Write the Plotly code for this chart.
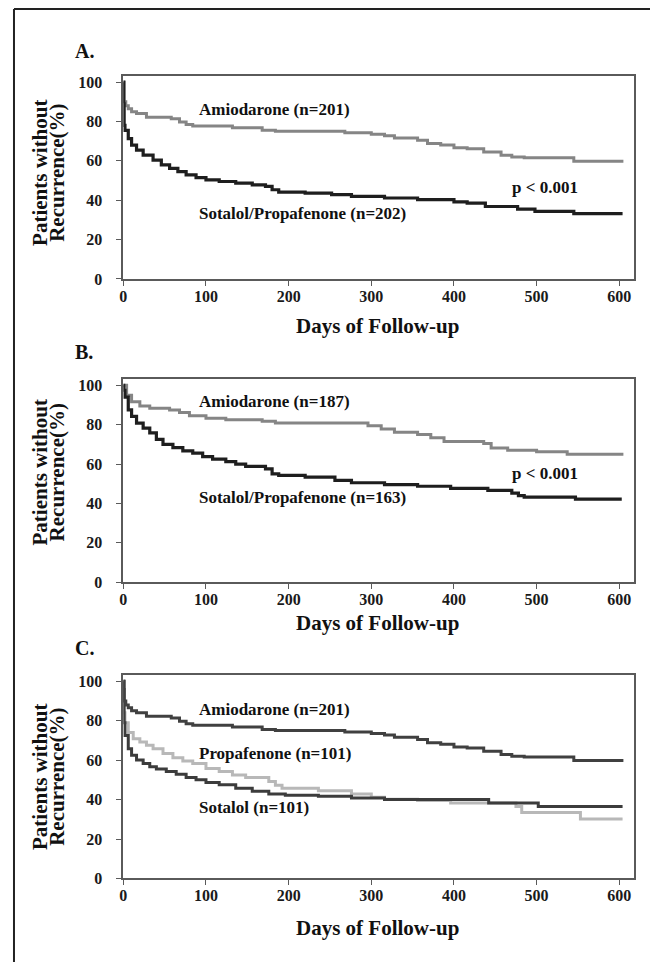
import plotly.graph_objects as go

W, H = 658, 971
OFF = 8  # page body margin of the html page
FW, FH = W - OFF, H - OFF

# ---------------- data (Kaplan-Meier step points: day, % without recurrence) ----------------
a_amio_days = [0, 1, 3, 6, 10, 16, 28, 58, 68, 76, 84, 132, 168, 184, 268, 300, 316, 328, 356, 368, 384, 400, 416, 436, 457, 470, 485, 545, 605]
a_amio_vals = [100, 90, 88, 86.5, 85, 84, 82.2, 81.4, 79.7, 78.5, 77.7, 76.8, 75.5, 75, 74.3, 73.5, 72.7, 71.6, 70.5, 68.8, 68, 66.6, 66.2, 64.5, 62.8, 62, 61.6, 59.8, 59.8]

a_sp_days = [0, 0.5, 1, 2, 6, 10, 16, 24, 36, 46, 56, 66, 76, 88, 100, 116, 136, 156, 172, 180, 188, 220, 252, 276, 316, 356, 400, 416, 438, 477, 498, 545, 604]
a_sp_vals = [100, 89, 78, 75.5, 71.3, 68, 65.4, 62.9, 60.4, 57.9, 56.2, 54.5, 52.9, 51.5, 50.3, 49.5, 48.7, 47.8, 47, 45.3, 44.1, 43.6, 42.8, 41.9, 41.1, 40.3, 39.1, 38.5, 36.8, 35.5, 34.3, 33.2, 33.2]

b_amio_days = [0, 4, 10, 20, 32, 56, 68, 80, 100, 124, 168, 184, 296, 312, 328, 356, 372, 388, 436, 445, 465, 500, 537, 605]
b_amio_vals = [100, 95, 91.7, 89.5, 88.3, 87.5, 86.2, 84.5, 83.3, 82.5, 81.7, 80.8, 79.5, 77.8, 76.2, 75, 73.3, 71.5, 70.4, 68.2, 67, 66.2, 65, 65]

b_sp_days = [0, 0.5, 2, 6, 10, 16, 24, 32, 40, 48, 60, 72, 84, 96, 108, 124, 136, 148, 172, 180, 188, 220, 256, 276, 316, 356, 396, 441, 470, 478, 485, 547, 603]
b_sp_vals = [100, 97.5, 94, 87.5, 84.2, 80.8, 78.3, 75.8, 72.5, 70, 68.3, 66.7, 65.5, 63.8, 62.5, 61.2, 60, 58.8, 57.5, 55, 54.2, 53.3, 51.7, 50.5, 49.5, 48.7, 47.6, 46.6, 45.2, 43.9, 43.2, 42.2, 42.2]

c_prop_days = [0, 0.5, 2, 6, 12, 20, 28, 36, 48, 60, 72, 84, 100, 116, 132, 148, 176, 184, 192, 236, 276, 300, 316, 356, 396, 475, 482, 553, 604]
c_prop_vals = [100, 84, 79, 74, 70.8, 69.2, 67.5, 65.8, 63.3, 61.2, 59.5, 58.3, 55.8, 54.2, 52.5, 51.2, 49.2, 47.2, 45.8, 44.5, 42.8, 41.2, 40.2, 39.5, 38.2, 36.5, 33.5, 30.2, 30.2]

c_sot_days = [0, 0.5, 1, 2, 6, 10, 16, 24, 32, 40, 52, 64, 76, 88, 100, 116, 136, 156, 176, 196, 236, 276, 316, 442, 502, 604]
c_sot_vals = [100, 95.8, 79, 72.5, 65.8, 62.5, 60, 58.3, 56.7, 55.5, 54.2, 52.8, 51.2, 50, 48.7, 47.5, 45.8, 44.2, 42.8, 42.2, 41.7, 40.8, 40, 38.2, 36.5, 36.5]

x_ticks = [0, 100, 200, 300, 400, 500, 600]
y_ticks = [0, 20, 40, 60, 80, 100]

panel_labels = ["A.", "B.", "C."]
x_title = "Days of Follow-up"
y_title_lines = ["Patients without", "Recurrence(%)"]
p_text = "p < 0.001"

# ---------------- layout helpers (page pixels -> paper fractions) ----------------
def px(x):
    return (x - OFF) / FW

def py(y):
    return 1 - (y - OFF) / FH

FONT = "Liberation Serif, Times New Roman, serif"

panels = [(75, 280), (381.7, 586.7), (681, 886.5)]
x_left, x_right = 120, 634

fig = go.Figure()

def add_curve(days, vals, color, width, ax):
    sfx = "" if ax == 1 else str(ax)
    fig.add_trace(go.Scatter(
        x=days, y=vals, mode="lines", line=dict(color=color, width=width, shape="hv"),
        xaxis="x" + sfx, yaxis="y" + sfx, showlegend=False, hoverinfo="skip"))

GRAY = "#858585"
BLACK = "#1e1e1e"
add_curve(a_amio_days, a_amio_vals, GRAY, 3, 1)
add_curve(a_sp_days, a_sp_vals, BLACK, 3.2, 1)
add_curve(b_amio_days, b_amio_vals, GRAY, 3, 2)
add_curve(b_sp_days, b_sp_vals, BLACK, 3.2, 2)
add_curve(c_prop_days, c_prop_vals, "#b8b8b8", 3, 3)
add_curve(c_sot_days, c_sot_vals, "#3c3c3c", 3, 3)
add_curve(a_amio_days, a_amio_vals, "#404040", 3, 3)

axis_common = dict(
    showline=True, mirror=True, linecolor="#5a5a5a", linewidth=1.5,
    ticks="outside", ticklen=5, tickwidth=1.3, tickcolor="#5a5a5a",
    showgrid=False, zeroline=False,
    tickfont=dict(family=FONT, size=16, color="#1a1a1a", weight="bold"),
)

layout = dict(
    width=FW, height=FH, margin=dict(l=0, r=0, t=0, b=0),
    paper_bgcolor="white", plot_bgcolor="white", showlegend=False,
)
for i, (top, bot) in enumerate(panels, start=1):
    sfx = "" if i == 1 else str(i)
    layout["xaxis" + sfx] = dict(
        axis_common, domain=[px(x_left), px(x_right)], range=[0, 618],
        tickvals=x_ticks, anchor="y" + sfx, ticklabelstandoff=-3)
    layout["yaxis" + sfx] = dict(
        axis_common, domain=[py(bot), py(top)], range=[0, 103],
        tickvals=y_ticks, anchor="x" + sfx, ticklen=6, ticklabelstandoff=10)
fig.update_layout(**layout)

ann = []
def text(x, y, s, size, xanchor="left", angle=0):
    ann.append(dict(x=px(x), y=py(y), xref="paper", yref="paper", text=s, showarrow=False,
                    xanchor=xanchor, yanchor="middle", textangle=angle,
                    font=dict(family=FONT, size=size, color="#111", weight="bold")))

for lab, yy in zip(panel_labels, [49, 354, 653]):
    text(69, yy, lab, 20)

for (top, bot), yc, xt in zip(panels, [173, 476, 784], [328, 628, 937]):
    text(36, yc, y_title_lines[0], 21, xanchor="center", angle=-90)
    text(53, yc, y_title_lines[1], 21, xanchor="center", angle=-90)
    text(376, xt, x_title, 21, xanchor="center")

text(194, 109, "Amiodarone (n=201)", 17)
text(194, 214, "Sotalol/Propafenone (n=202)", 17)
text(509, 188, p_text, 17)

text(194, 404, "Amiodarone (n=187)", 17)
text(194, 501, "Sotalol/Propafenone (n=163)", 17)
text(509, 477, p_text, 17)

text(194, 716, "Amiodarone (n=201)", 17)
text(194, 760, "Propafenone (n=101)", 17)
text(194, 815, "Sotalol (n=101)", 17)

fig.update_layout(annotations=ann)

# outer frame (left and top edges)
fig.add_shape(type="line", xref="paper", yref="paper", x0=px(10), x1=px(10), y0=py(7), y1=0,
              line=dict(color="#222", width=2))
fig.add_shape(type="line", xref="paper", yref="paper", x0=px(10), x1=1, y0=py(7), y1=py(7),
              line=dict(color="#222", width=2))

fig.write_html("out.html")
